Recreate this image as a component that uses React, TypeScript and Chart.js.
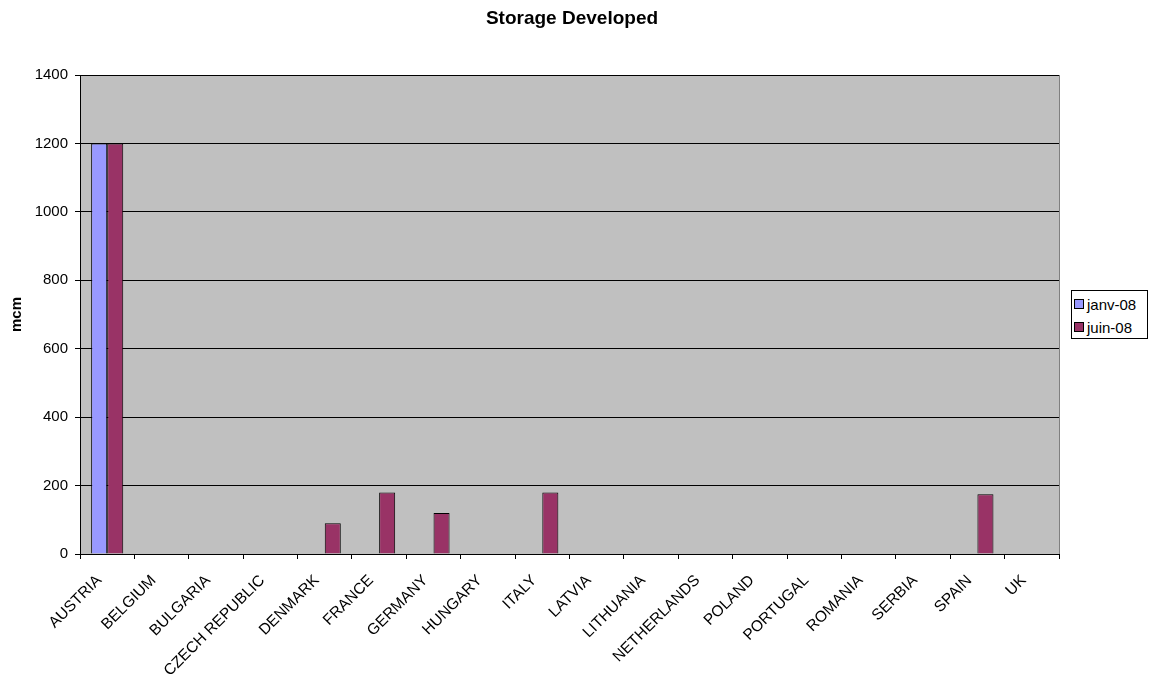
import React, { useEffect, useRef } from "react";
import { Chart, registerables } from "chart.js";

Chart.register(...registerables);

const categories = [
  "AUSTRIA", "BELGIUM", "BULGARIA", "CZECH REPUBLIC", "DENMARK", "FRANCE",
  "GERMANY", "HUNGARY", "ITALY", "LATVIA", "LITHUANIA", "NETHERLANDS",
  "POLAND", "PORTUGAL", "ROMANIA", "SERBIA", "SPAIN", "UK",
];
const janv08 = [1200, 0, 0, 0, 0, 0, 0, 0, 0, 0, 0, 0, 0, 0, 0, 0, 0, 0];
const juin08 = [1200, 0, 0, 0, 90, 180, 120, 0, 180, 0, 0, 0, 0, 0, 0, 0, 175, 0];
const seriesNames = ["janv-08", "juin-08"];
const seriesColors = ["#9999FF", "#993366"];
const yTicks = { min: 0, max: 1400, step: 200 };
const chartTitle = "Storage Developed";
const yTitle = "mcm";

const FONT = "Arial, 'Liberation Sans', sans-serif";

export default function App() {
  const ref = useRef<HTMLCanvasElement | null>(null);

  useEffect(() => {
    const bgPlugin = {
      id: "plotbg",
      beforeDraw(chart: any) {
        const { ctx, chartArea: a } = chart;
        ctx.save();
        ctx.fillStyle = "#C0C0C0";
        ctx.fillRect(a.left, a.top, a.right - a.left, a.bottom - a.top);
        ctx.strokeStyle = "#808080";
        ctx.lineWidth = 1;
        ctx.strokeRect(Math.round(a.left) + 0.5, Math.round(a.top) + 0.5, Math.round(a.right - a.left), Math.round(a.bottom - a.top));
        ctx.restore();
      },
      afterDraw(chart: any) {
        const { ctx, chartArea: a } = chart;
        const xs = chart.scales.x;
        ctx.save();
        ctx.fillStyle = "#000";
        ctx.font = `bold 19px ${FONT}`;
        ctx.textAlign = "center";
        ctx.textBaseline = "middle";
        ctx.fillText(chartTitle, 572, 19);
        ctx.font = `15.5px ${FONT}`;
        ctx.textAlign = "right";
        ctx.textBaseline = "alphabetic";
        categories.forEach((c, i) => {
          const x = xs.getPixelForValue(i);
          ctx.save();
          ctx.translate(x - 5, a.bottom + 27);
          ctx.rotate(-Math.PI / 4);
          ctx.fillText(c, 0, 0);
          ctx.restore();
        });
        ctx.restore();
      },
    };

    const chart = new Chart(ref.current as HTMLCanvasElement, {
      type: "bar",
      data: {
        labels: categories,
        datasets: [
          {
            label: seriesNames[0],
            data: janv08,
            backgroundColor: seriesColors[0],
            borderColor: "#000",
            borderWidth: 1,
            categoryPercentage: 0.59,
            barPercentage: 1,
          },
          {
            label: seriesNames[1],
            data: juin08,
            backgroundColor: seriesColors[1],
            borderColor: "#000",
            borderWidth: 1,
            categoryPercentage: 0.59,
            barPercentage: 1,
          },
        ],
      },
      options: {
        responsive: false,
        animation: false,
        devicePixelRatio: 1,
        layout: { padding: { top: 75, right: 90, left: 0, bottom: 0 } },
        plugins: {
          legend: { display: false },
          title: { display: false },
          tooltip: { enabled: false },
        },
        scales: {
          x: {
            offset: true,
            grid: {
              offset: true,
              drawOnChartArea: false,
              drawTicks: true,
              tickLength: 5,
              color: "#000",
            },
            border: { color: "#000", width: 1 },
            ticks: {
              display: false,
              autoSkip: false,
            },
            afterFit(scale: any) {
              scale.height = 126;
            },
          },
          y: {
            min: yTicks.min,
            max: yTicks.max,
            ticks: {
              stepSize: yTicks.step,
              color: "#000",
              font: { family: FONT, size: 15 },
              padding: 7,
              callback: (v: any) => String(v),
            },
            grid: {
              color: "#000",
              lineWidth: 1,
              drawTicks: true,
              tickLength: 5,
            },
            border: { color: "#000", width: 1 },
            title: {
              display: true,
              text: yTitle,
              color: "#000",
              font: { family: FONT, size: 15, weight: "bold" },
              padding: { top: 8, bottom: 0 },
            },
            afterFit(scale: any) {
              scale.width = 80;
            },
          },
        },
      },
      plugins: [bgPlugin],
    });
    return () => chart.destroy();
  }, []);

  return (
    <div style={{ position: "fixed", left: 0, top: 0, width: 1149, height: 680, background: "#fff" }}>
      <canvas ref={ref} width={1149} height={680} style={{ display: "block" }} />
      <div
        style={{
          position: "absolute",
          left: 1071,
          top: 290,
          width: 77,
          height: 49,
          border: "1px solid #000",
          background: "#fff",
          fontFamily: FONT,
          fontSize: 15,
          color: "#000",
          boxSizing: "border-box",
        }}
      >
        {seriesNames.map((n, i) => (
          <div key={n} style={{ position: "absolute", left: 2, top: 4 + i * 23, height: 18, display: "flex", alignItems: "center", whiteSpace: "nowrap" }}>
            <span style={{ display: "inline-block", width: 8, height: 8, background: seriesColors[i], border: "1px solid #000", marginRight: 3 }} />
            <span>{n}</span>
          </div>
        ))}
      </div>
    </div>
  );
}
